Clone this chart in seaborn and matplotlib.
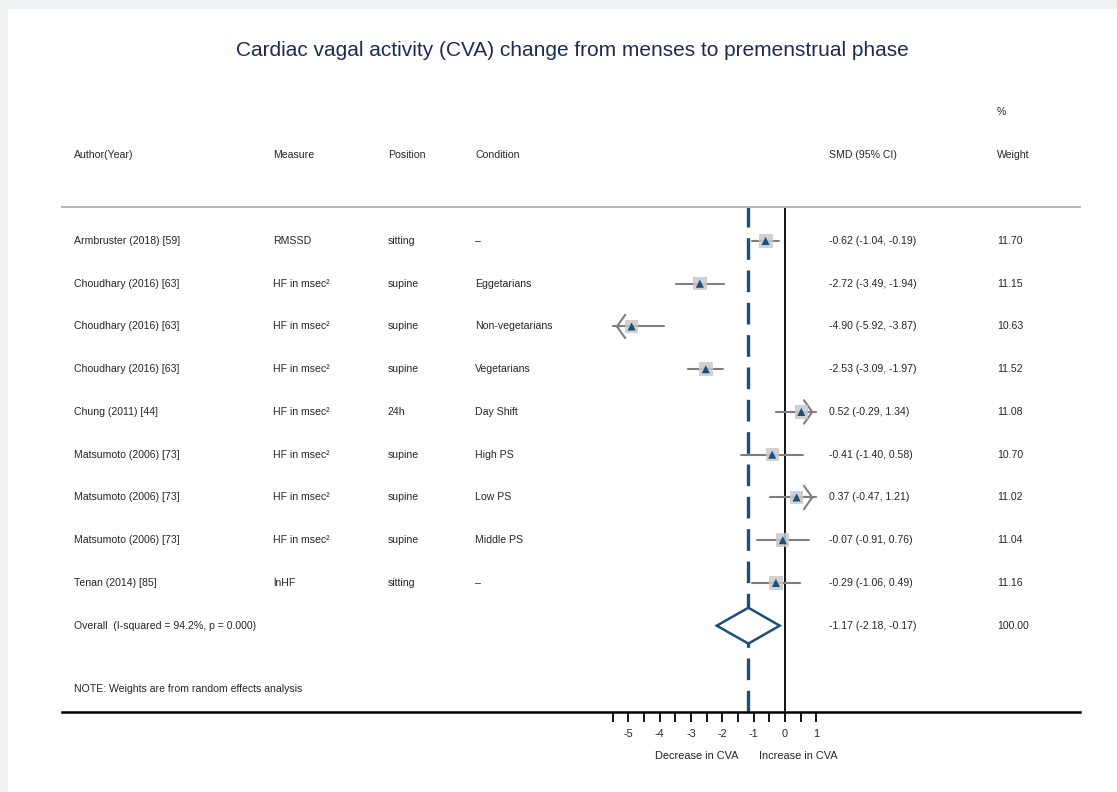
import numpy as np
import pandas as pd
import seaborn as sns
import matplotlib.pyplot as plt
import matplotlib.transforms as mtransforms
from matplotlib.patches import Rectangle

# study rows
authors = ["Armbruster (2018) [59]", "Choudhary (2016) [63]", "Choudhary (2016) [63]",
           "Choudhary (2016) [63]", "Chung (2011) [44]", "Matsumoto (2006) [73]",
           "Matsumoto (2006) [73]", "Matsumoto (2006) [73]", "Tenan (2014) [85]"]
measures = ["RMSSD", "HF in msec²", "HF in msec²", "HF in msec²", "HF in msec²",
            "HF in msec²", "HF in msec²", "HF in msec²", "lnHF"]
positions = ["sitting", "supine", "supine", "supine", "24h", "supine", "supine", "supine", "sitting"]
conditions = ["–", "Eggetarians", "Non-vegetarians", "Vegetarians", "Day Shift",
              "High PS", "Low PS", "Middle PS", "–"]
smd = [-0.62, -2.72, -4.90, -2.53, 0.52, -0.41, 0.37, -0.07, -0.29]
ci_lo = [-1.04, -3.49, -5.92, -3.09, -0.29, -1.40, -0.47, -0.91, -1.06]
ci_hi = [-0.19, -1.94, -3.87, -1.97, 1.34, 0.58, 1.21, 0.76, 0.49]
weights = [11.70, 11.15, 10.63, 11.52, 11.08, 10.70, 11.02, 11.04, 11.16]

overall_smd = -1.17
overall_lo = -2.18
overall_hi = -0.17
overall_weight = 100.00
overall_label = "Overall  (I-squared = 94.2%, p = 0.000)"

xticks = np.arange(-5.5, 1.01, 0.5)
xmin, xmax = -5.5, 1.0

navy = "#1b4f7c"
grey_line = "#7f7f7f"
grey_box = "#c9c9c9"

df = pd.DataFrame({"row": np.arange(len(smd)), "smd": smd, "lo": ci_lo,
                   "hi": ci_hi, "weight": weights})

sns.set_theme(style="white")
plt.rcParams["font.family"] = ["Liberation Sans", "DejaVu Sans"]
plt.rcParams["axes.unicode_minus"] = False

fig = plt.figure(figsize=(11.17, 7.92), dpi=100)
fig.patch.set_facecolor("#eef2f2")
fig.add_artist(Rectangle((8 / 1117, 0), 1, 1 - 9 / 792, transform=fig.transFigure,
                         facecolor="white", edgecolor="none", zorder=0))

ax = fig.add_axes([62 / 1117, 1 - 712 / 792, (1080 - 62) / 1117, (712 - 207) / 792])
ax.set_facecolor("none")
ax.set_xlim((62 - 785) / 31.3, (1080 - 785) / 31.3)
ax.set_ylim(11.02, -0.795)

# reference lines
ax.axvline(0, color="black", lw=1.3, zorder=1)
ax.axvline(overall_smd, color=navy, lw=2.4, ls=(0, (6.5, 3.2)), zorder=1)

# confidence intervals, clipped to the plotted range with arrows
for _, r in df.iterrows():
    lo = max(r.lo, xmin)
    hi = min(r.hi, xmax)
    ax.plot([lo, hi], [r.row, r.row], color=grey_line, lw=1.5, zorder=2)
    if r.lo < xmin:
        ax.annotate("", xy=(lo, r.row), xytext=(lo + 0.3, r.row),
                    arrowprops=dict(arrowstyle="->,head_length=0.5,head_width=0.7",
                                    color=grey_line, lw=1.5), zorder=2)
    if r.hi > xmax:
        ax.annotate("", xy=(hi, r.row), xytext=(hi - 0.3, r.row),
                    arrowprops=dict(arrowstyle="->,head_length=0.5,head_width=0.7",
                                    color=grey_line, lw=1.5), zorder=2)

sns.scatterplot(data=df, x="smd", y="row", size="weight", sizes=(88, 100), marker="s",
                color=grey_box, edgecolor="none", alpha=0.85, legend=False, ax=ax, zorder=3)
sns.scatterplot(data=df, x="smd", y="row", marker="^", color=navy, s=34,
                edgecolor="none", legend=False, ax=ax, zorder=4)

# overall diamond
orow = len(smd)
ax.fill([overall_lo, overall_smd, overall_hi, overall_smd],
        [orow, orow - 0.42, orow, orow + 0.42],
        facecolor="white", edgecolor=navy, lw=1.8, zorder=5)

# axes styling
for s in ["left", "right"]:
    ax.spines[s].set_visible(False)
ax.spines["bottom"].set_color("black")
ax.spines["bottom"].set_linewidth(1.8)
ax.spines["top"].set_color("#b5b5b5")
ax.spines["top"].set_linewidth(1.4)
ax.set_yticks([])
ax.set_xticks(xticks)
ax.set_xticklabels([f"{t:.0f}" if float(t).is_integer() else "" for t in xticks])
ax.tick_params(axis="x", direction="out", length=7, width=1.3, color="black",
               labelsize=7.8, pad=5, bottom=True)
ax.set_xlabel("")
ax.set_ylabel("")

# text columns
tr = mtransforms.blended_transform_factory(ax.transAxes, ax.transData)
cols = [0.0118, 0.2073, 0.3202, 0.4057, 0.7534, 0.9185]
fs = 7.6
headers = ["Author(Year)", "Measure", "Position", "Condition", "SMD (95% CI)", "Weight"]
for x, h in zip(cols, headers):
    ax.text(x, -2.01, h, transform=tr, fontsize=fs, va="center", ha="left", clip_on=False)
ax.text(cols[5], -3.02, "%", transform=tr, fontsize=fs, va="center", ha="left", clip_on=False)

for i in range(len(smd)):
    vals = [authors[i], measures[i], positions[i], conditions[i],
            f"{smd[i]:.2f} ({ci_lo[i]:.2f}, {ci_hi[i]:.2f})", f"{weights[i]:.2f}"]
    for x, v in zip(cols, vals):
        ax.text(x, i, v, transform=tr, fontsize=fs, va="center", ha="left")

ax.text(cols[0], orow, overall_label, transform=tr, fontsize=fs, va="center", ha="left")
ax.text(cols[4], orow, f"{overall_smd:.2f} ({overall_lo:.2f}, {overall_hi:.2f})",
        transform=tr, fontsize=fs, va="center", ha="left")
ax.text(cols[5], orow, f"{overall_weight:.2f}", transform=tr, fontsize=fs, va="center", ha="left")
ax.text(cols[0], 10.49, "NOTE: Weights are from random effects analysis", transform=tr,
        fontsize=fs, va="center", ha="left")

trx = mtransforms.blended_transform_factory(ax.transData, ax.transAxes)
ax.text(-1.5, -0.087, "Decrease in CVA", transform=trx, fontsize=7.9, va="center",
        ha="right", clip_on=False)
ax.text(-0.83, -0.087, "Increase in CVA", transform=trx, fontsize=7.9, va="center",
        ha="left", clip_on=False)

fig.text(572 / 1117, 1 - 50 / 792,
         "Cardiac vagal activity (CVA) change from menses to premenstrual phase",
         fontsize=15, color="#1c2b58", ha="center", va="center")

fig.savefig("out.png", dpi=100, facecolor=fig.get_facecolor())
